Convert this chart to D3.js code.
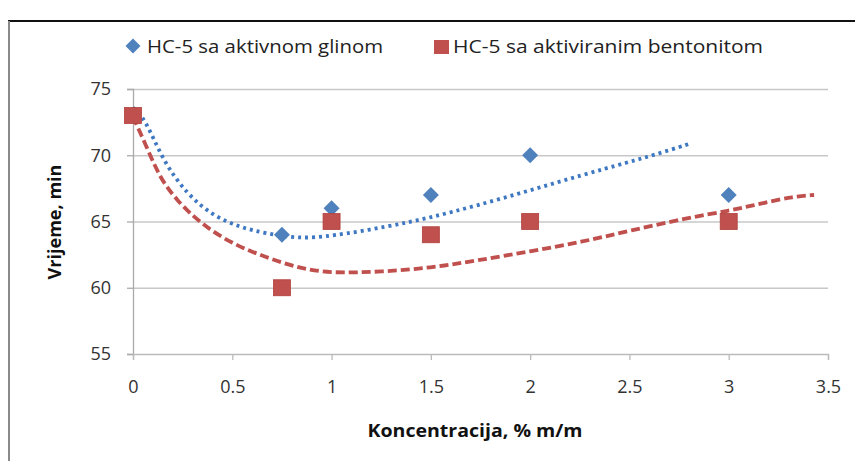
<!DOCTYPE html>
<html>
<head>
<meta charset="utf-8">
<script src="https://cdn.jsdelivr.net/npm/d3@7"></script>
<style>
  body { margin: 0; background: #fff; }
  text { font-family: "Open Sans", sans-serif; }
</style>
</head>
<body>
<script>
// measured points
const konc = [0, 0.75, 1, 1.5, 2, 3];
const glina = [73, 64, 66, 67, 70, 67];       // HC-5 sa aktivnom glinom
const bentonit = [73, 60, 65, 64, 65, 65];    // HC-5 sa aktiviranim bentonitom

// trendlines
const glinaTrendX = [0, 0.06, 0.15, 0.27, 0.40, 0.54, 0.67, 0.84, 1.0, 1.28, 1.5, 1.73, 2.0, 2.26, 2.5, 2.62, 2.81];
const glinaTrendY = [73.6, 72.8, 69.6, 67.1, 65.45, 64.55, 64.1, 63.7, 63.9, 64.6, 65.3, 66.2, 67.35, 68.5, 69.5, 70.0, 70.9];
const bentTrendX = [0, 0.07, 0.135, 0.22, 0.34, 0.5, 0.67, 0.84, 1.0, 1.25, 1.5, 1.73, 2.0, 2.26, 2.5, 2.8, 3.0, 3.16, 3.33, 3.43];
const bentTrendY = [72.9, 70.6, 68.3, 66.6, 64.85, 63.3, 62.3, 61.45, 61.1, 61.2, 61.5, 62.05, 62.75, 63.45, 64.3, 65.3, 65.8, 66.35, 66.9, 67.0];

const xTicks = [0, 0.5, 1, 1.5, 2, 2.5, 3, 3.5];
const yTicks = [55, 60, 65, 70, 75];

const W = 855, H = 461;
let margin = {top: 89, right: 27, bottom: 107, left: 133}
  , width = W - margin.left - margin.right
  , height = H - margin.top - margin.bottom;

const BLUE = "#4F81BD", RED = "#C0504D";

let xScale = d3.scaleLinear().domain([0, 3.5]).range([0, width]);
let yScale = d3.scaleLinear().domain([55, 75]).range([height, 0]);

const root = d3.select("body").append("svg")
    .attr("width", W)
    .attr("height", H);

// frame
root.append("line").attr("x1", 8).attr("x2", W).attr("y1", 21).attr("y2", 21)
    .attr("stroke", "#111").attr("stroke-width", 2);
root.append("line").attr("x1", 9).attr("x2", 9).attr("y1", 21).attr("y2", H)
    .attr("stroke", "#8a8a8a").attr("stroke-width", 2);

const svg = root.append("g")
    .attr("transform", "translate(" + margin.left + "," + margin.top + ")");

// gridlines
svg.append("g")
    .call(d3.axisLeft(yScale).tickValues(yTicks.slice(1)).tickSize(-width).tickFormat(""))
    .call(g => g.select(".domain").remove())
    .call(g => g.selectAll("line").attr("stroke", "#c8c8c8").attr("stroke-width", 1.3));

// y axis
svg.append("g")
    .call(d3.axisLeft(yScale).tickValues(yTicks).tickSize(6).tickPadding(16))
    .call(g => g.select(".domain").attr("stroke", "#aaa").attr("stroke-width", 1.3))
    .call(g => g.selectAll("line").attr("stroke", "#aaa").attr("stroke-width", 1.3))
    .call(g => g.selectAll("text").attr("font-size", 18).attr("fill", "#333")
        .attr("font-family", "'Open Sans', sans-serif"));

// x axis
svg.append("g")
    .attr("transform", "translate(0," + height + ")")
    .call(d3.axisBottom(xScale).tickValues(xTicks).tickSize(6).tickPadding(20)
        .tickFormat(d => String(d)))
    .call(g => g.select(".domain").attr("stroke", "#bbb").attr("stroke-width", 1.3))
    .call(g => g.selectAll("line").attr("stroke", "#bbb").attr("stroke-width", 1.3))
    .call(g => g.selectAll("text").attr("font-size", 18).attr("fill", "#333")
        .attr("font-family", "'Open Sans', sans-serif"));

// trendlines
const line = d3.line()
    .x(d => xScale(d[0]))
    .y(d => yScale(d[1]))
    .curve(d3.curveBasis);

svg.append("path")
    .datum(glinaTrendX.map((x, i) => [x, glinaTrendY[i]]))
    .attr("d", line)
    .attr("fill", "none")
    .attr("stroke", "#3f78c2")
    .attr("stroke-width", 3.8)
    .attr("stroke-dasharray", "3,4");

svg.append("path")
    .datum(bentTrendX.map((x, i) => [x, bentTrendY[i]]))
    .attr("d", line)
    .attr("fill", "none")
    .attr("stroke", RED)
    .attr("stroke-width", 3.8)
    .attr("stroke-dasharray", "9,4");

// markers
svg.selectAll(".diamond")
    .data(konc.map((x, i) => [x, glina[i]]))
  .enter().append("path")
    .attr("class", "diamond")
    .attr("d", "M0,-8L8,0L0,8L-8,0Z")
    .attr("transform", d => "translate(" + xScale(d[0]) + "," + yScale(d[1]) + ")")
    .attr("fill", BLUE);

svg.selectAll(".square")
    .data(konc.map((x, i) => [x, bentonit[i]]))
  .enter().append("rect")
    .attr("class", "square")
    .attr("x", d => xScale(d[0]) - 8.5)
    .attr("y", d => yScale(d[1]) - 8)
    .attr("width", 17)
    .attr("height", 16)
    .attr("fill", RED)
    .attr("stroke", "#b0403d")
    .attr("stroke-width", 0.8);

// axis titles
root.append("text")
    .attr("x", 475).attr("y", 437)
    .attr("text-anchor", "middle")
    .attr("font-size", 17).attr("font-weight", "bold").attr("fill", "#111")
    .attr("textLength", 215).attr("lengthAdjust", "spacingAndGlyphs")
    .text("Koncentracija, % m/m");

root.append("text")
    .attr("transform", "translate(61,222) rotate(-90)")
    .attr("text-anchor", "middle")
    .attr("font-size", 17).attr("font-weight", "bold").attr("fill", "#111")
    .attr("textLength", 115).attr("lengthAdjust", "spacingAndGlyphs")
    .text("Vrijeme, min");

// legend
const legend = root.append("g");
legend.append("path")
    .attr("d", "M0,-7.5L7.5,0L0,7.5L-7.5,0Z")
    .attr("transform", "translate(133,46)")
    .attr("fill", BLUE);
legend.append("text")
    .attr("x", 147).attr("y", 53)
    .attr("font-size", 18).attr("fill", "#222")
    .attr("textLength", 236).attr("lengthAdjust", "spacingAndGlyphs")
    .text("HC-5 sa aktivnom glinom");
legend.append("rect")
    .attr("x", 434).attr("y", 40).attr("width", 15).attr("height", 14)
    .attr("fill", RED);
legend.append("text")
    .attr("x", 453).attr("y", 53)
    .attr("font-size", 18).attr("fill", "#222")
    .attr("textLength", 310).attr("lengthAdjust", "spacingAndGlyphs")
    .text("HC-5 sa aktiviranim bentonitom");
</script>
</body>
</html>
